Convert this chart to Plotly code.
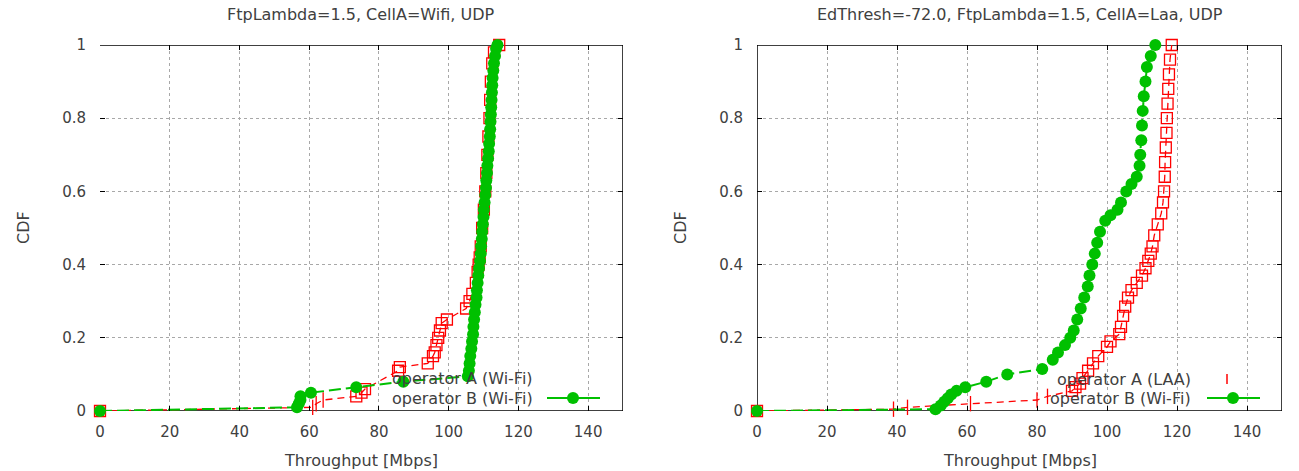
import plotly.graph_objects as go

# ---------------- data ----------------
wifi_A_x = [0, 61, 62, 64, 73.5, 75, 76, 85.5, 86, 94, 95.5, 96, 96.5, 97, 97.5, 98, 99.5,
            105, 106, 106.8, 107.8, 108.3, 108.6, 108.9, 109.2, 109.6, 110.1, 110.5, 110.8,
            111.1, 111.4, 111.7, 111.9, 112.1, 112.5, 113, 114.5]
wifi_A_y = [0, 0.01, 0.02, 0.03, 0.04, 0.05, 0.06, 0.11, 0.12, 0.13, 0.15, 0.16, 0.18, 0.2,
            0.22, 0.24, 0.25, 0.28, 0.3, 0.32, 0.35, 0.38, 0.4, 0.42, 0.45, 0.5, 0.55, 0.6,
            0.65, 0.7, 0.75, 0.8, 0.85, 0.9, 0.95, 0.98, 1.0]

wifi_B_x = [0, 56.5, 57, 57.5, 57.5, 60.5, 73.5, 87, 105.5, 105.8, 106, 106.2, 106.5, 106.7,
            107, 107.1, 107.3, 107.5, 107.7, 108, 108.1, 108.3, 108.5, 108.7, 109, 109.2,
            109.3, 109.5, 109.6, 109.8, 110, 110.1, 110.3, 110.5, 110.7, 110.8, 111, 111.1,
            111.3, 111.5, 111.6, 111.8, 111.9, 112, 112.1, 112.2, 112.3, 112.4, 112.5, 112.6,
            112.8, 113, 113.3, 113.6, 114]
wifi_B_y = [0, 0.01, 0.02, 0.03, 0.04, 0.05, 0.065, 0.08, 0.095, 0.11, 0.13, 0.15, 0.17,
            0.19, 0.21, 0.23, 0.25, 0.27, 0.29, 0.31, 0.33, 0.35, 0.37, 0.39, 0.41, 0.43,
            0.45, 0.47, 0.49, 0.51, 0.53, 0.55, 0.57, 0.59, 0.61, 0.63, 0.65, 0.67, 0.69,
            0.71, 0.73, 0.75, 0.77, 0.79, 0.81, 0.83, 0.85, 0.87, 0.89, 0.91, 0.93, 0.95,
            0.97, 0.99, 1.0]

laa_A_x = [0, 39, 43, 61, 80, 83, 90, 91, 92.3, 93, 94.6, 96, 97.5, 100, 101, 103.5, 104,
           104.6, 105.2, 106, 107, 108.5, 110, 111, 111.8, 112.5, 113, 113.5, 114.5, 115.5,
           116, 116.3, 116.5, 116.6, 116.8, 117, 117.1, 117.3, 117.5, 117.7, 118, 118.5]
laa_A_y = [0, 0.005, 0.01, 0.02, 0.03, 0.04, 0.055, 0.065, 0.075, 0.09, 0.11, 0.13, 0.15,
           0.175, 0.19, 0.21, 0.23, 0.26, 0.285, 0.31, 0.33, 0.35, 0.37, 0.39, 0.41, 0.43,
           0.45, 0.48, 0.51, 0.54, 0.57, 0.6, 0.64, 0.68, 0.72, 0.76, 0.8, 0.84, 0.88, 0.92,
           0.96, 1.0]

laa_B_x = [0, 51, 52.5, 53.5, 54.5, 55.5, 57, 59.5, 65.5, 71.5, 81.5, 84.5, 86, 88, 89.5,
           90.5, 91.5, 92.5, 93.5, 94.5, 95, 95.8, 96.5, 97.2, 98, 99.5, 101, 103, 104, 105.5,
           107, 108.5, 109.3, 109.5, 109.8, 110, 110.2, 110.5, 111, 111.4, 112.5, 113.8]
laa_B_y = [0, 0.005, 0.015, 0.025, 0.035, 0.045, 0.055, 0.065, 0.08, 0.1, 0.115, 0.14, 0.16,
           0.18, 0.2, 0.22, 0.25, 0.28, 0.31, 0.34, 0.37, 0.4, 0.43, 0.46, 0.49, 0.52, 0.535,
           0.55, 0.57, 0.6, 0.62, 0.64, 0.67, 0.7, 0.74, 0.78, 0.82, 0.86, 0.9, 0.94, 0.97,
           1.0]

x_ticks = [0, 20, 40, 60, 80, 100, 120, 140]
y_ticks = [0, 0.2, 0.4, 0.6, 0.8, 1]
y_tick_text = ["0", "0.2", "0.4", "0.6", "0.8", "1"]

titles = ["FtpLambda=1.5, CellA=Wifi, UDP", "EdThresh=-72.0, FtpLambda=1.5, CellA=Laa, UDP"]
x_title = "Throughput [Mbps]"
y_title = "CDF"
legend_left = ["operator A (Wi-Fi)", "operator B (Wi-Fi)"]
legend_right = ["operator A (LAA)", "operator B (Wi-Fi)"]

# ---------------- styling ----------------
W, H = 1299, 471
RED = "#ff0000"
GREEN = "#00c000"
FONT = "DejaVu Sans"
TXT = "#404040"


def px(x):
    return x / W


def py(y):
    return 1 - y / H


fig = go.Figure()


def red_trace(xs, ys, xa, ya, tick_below):
    # the lowest (non-zero) samples show only a vertical tick in the reference
    symbols = ["line-ns-open" if 0 < v <= tick_below else "square-open" for v in ys]
    return go.Scatter(x=xs, y=ys, xaxis=xa, yaxis=ya, mode="lines+markers",
                      line=dict(color=RED, width=1.3, dash="7px,5px"),
                      marker=dict(symbol=symbols, size=11, color=RED,
                                  line=dict(color=RED, width=1.3)),
                      cliponaxis=False, showlegend=False)


def green_trace(xs, ys, xa, ya):
    return go.Scatter(x=xs, y=ys, xaxis=xa, yaxis=ya, mode="lines+markers",
                      line=dict(color=GREEN, width=2, dash="12px,5px"),
                      marker=dict(symbol="circle", size=12, color=GREEN),
                      cliponaxis=False, showlegend=False)


fig.add_trace(red_trace(wifi_A_x, wifi_A_y, "x", "y", 0.035))
fig.add_trace(green_trace(wifi_B_x, wifi_B_y, "x", "y"))
fig.add_trace(red_trace(laa_A_x, laa_A_y, "x2", "y2", 0.045))
fig.add_trace(green_trace(laa_B_x, laa_B_y, "x2", "y2"))

dom_y = [py(411), py(45)]
dom_x1 = [px(100), px(623)]
dom_x2 = [px(757), px(1282)]

xcommon = dict(range=[0, 150], tickvals=x_ticks, showline=False, zeroline=False,
               showgrid=True, gridcolor="#a8a8a8", griddash="dot", gridwidth=1,
               ticks="inside", ticklen=5, tickcolor="black", mirror="ticks",
               automargin=False,
               tickfont=dict(family=FONT, size=15, color=TXT), ticklabelstandoff=10)
ycommon = dict(range=[0, 1], tickvals=y_ticks, ticktext=y_tick_text, showline=False,
               zeroline=False, showgrid=True, gridcolor="#a8a8a8", griddash="dot",
               gridwidth=1, ticks="inside", ticklen=5, tickcolor="black", mirror="ticks",
               automargin=False,
               tickfont=dict(family=FONT, size=15, color=TXT), ticklabelstandoff=13)

fig.update_layout(
    width=W, height=H,
    margin=dict(l=0, r=0, t=0, b=0, pad=0, autoexpand=False),
    paper_bgcolor="white", plot_bgcolor="white",
    xaxis=dict(domain=dom_x1, anchor="y", **xcommon),
    yaxis=dict(domain=dom_y, anchor="x", **ycommon),
    xaxis2=dict(domain=dom_x2, anchor="y2", **xcommon),
    yaxis2=dict(domain=dom_y, anchor="x2", **ycommon),
    showlegend=False,
)

shapes = []
# panel borders (left panel has no visible left border in the reference)
for xr, yr, sides in [("x", "y", ["top", "bottom", "right"]),
                      ("x2", "y2", ["top", "bottom", "right", "left"])]:
    seg = {"top": (0, 1, 150, 1), "bottom": (0, 0, 150, 0),
           "right": (150, 0, 150, 1), "left": (0, 0, 0, 1)}
    for s in sides:
        x0, y0, x1, y1 = seg[s]
        shapes.append(dict(type="line", xref=xr, yref=yr, x0=x0, y0=y0, x1=x1, y1=y1,
                           line=dict(color="black", width=1.5), layer="between"))

# legend samples
shapes.append(dict(type="line", xref="paper", yref="paper", x0=px(547), x1=px(600),
                   y0=py(398), y1=py(398), line=dict(color=GREEN, width=2)))
shapes.append(dict(type="circle", xref="paper", yref="paper", x0=px(567), x1=px(579),
                   y0=py(404), y1=py(392), fillcolor=GREEN, line=dict(color=GREEN, width=0)))
shapes.append(dict(type="line", xref="paper", yref="paper", x0=px(1207), x1=px(1260),
                   y0=py(398), y1=py(398), line=dict(color=GREEN, width=2)))
shapes.append(dict(type="circle", xref="paper", yref="paper", x0=px(1227), x1=px(1239),
                   y0=py(404), y1=py(392), fillcolor=GREEN, line=dict(color=GREEN, width=0)))
shapes.append(dict(type="line", xref="paper", yref="paper", x0=px(1227), x1=px(1227),
                   y0=py(374), y1=py(384), line=dict(color=RED, width=1.5)))
fig.update_layout(shapes=shapes)

ann = []


def add_text(text, x, y, size=16, xanchor="center", angle=0):
    ann.append(dict(text=text, x=px(x), y=py(y), xref="paper", yref="paper",
                    xanchor=xanchor, yanchor="middle", showarrow=False, textangle=angle,
                    font=dict(family=FONT, size=size, color=TXT)))


# titles
add_text(titles[0], 361, 15)
add_text(titles[1], 1020, 15)
# axis titles
add_text(x_title, 361, 460)
add_text(x_title, 1020, 460)
add_text(y_title, 23, 228, angle=-90)
add_text(y_title, 680, 228, angle=-90)
# legend texts
for txt, yy in zip(legend_left, (378, 398)):
    add_text(txt, 535, yy, size=16, xanchor="right")
for txt, yy in zip(legend_right, (379, 398)):
    add_text(txt, 1193, yy, size=16, xanchor="right")
fig.update_layout(annotations=ann)

fig.write_html("out.html")
